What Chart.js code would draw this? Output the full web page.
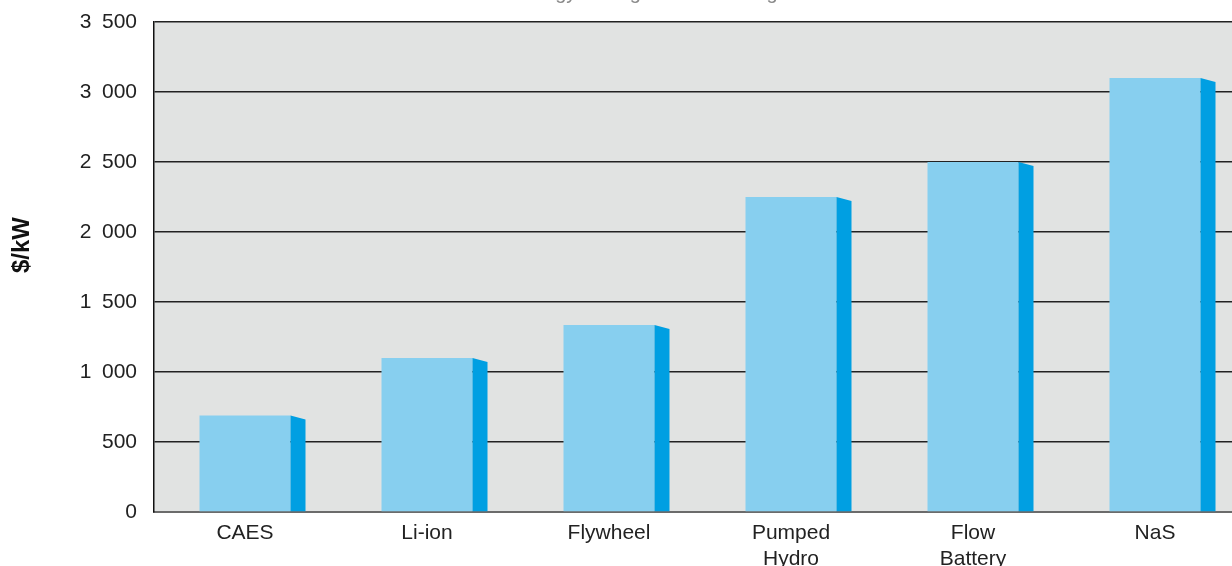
<!DOCTYPE html>
<html>
<head>
<meta charset="utf-8">
<title>Energy Storage Cost Ranking</title>
<script src="https://cdn.jsdelivr.net/npm/chart.js@4/dist/chart.umd.min.js"></script>
<style>
  html, body { margin: 0; padding: 0; background: #fff; overflow: hidden; }
  #wrap { width: 1246px; height: 566px; }
</style>
</head>
<body>
<div id="wrap"><canvas id="costChart"></canvas></div>
<script>
// Cost per kW for each storage technology
const technologies = ['CAES', ['Li-ion'], ['Flywheel'], ['Pumped', 'Hydro'], ['Flow', 'Battery'], ['NaS']];
const costPerKw = [690, 1100, 1335, 2250, 2500, 3100];
const chartTitle = 'Energy Storage Cost Ranking';
const axisTitle = '$/kW';

const FONT = '"Liberation Sans", Arial, Helvetica, sans-serif';
const FRONT = '#87CFEF';
const SIDE = '#009FE2';

// thousands separated with a wide space, like "3 500"
function formatCost(value) {
    return String(value).replace(/\B(?=(\d{3})+(?!\d))/g, '\u2002');
}

// grey plot background
const plotBackground = {
    id: 'plotBackground',
    beforeDraw(chart) {
        const { ctx, chartArea: a } = chart;
        ctx.save();
        ctx.fillStyle = '#E1E3E2';
        ctx.fillRect(a.left, a.top, a.right - a.left, a.bottom - a.top);
        ctx.restore();
    }
};

// darker right face on every bar, slanted at the top
const barSides = {
    id: 'barSides',
    afterDatasetsDraw(chart) {
        const { ctx } = chart;
        const depth = 15, drop = 4;
        chart.getDatasetMeta(0).data.forEach(bar => {
            const right = bar.x + bar.width / 2;
            ctx.save();
            ctx.fillStyle = SIDE;
            ctx.beginPath();
            ctx.moveTo(right, bar.y);
            ctx.lineTo(right + depth, bar.y + drop);
            ctx.lineTo(right + depth, bar.base);
            ctx.lineTo(right, bar.base);
            ctx.closePath();
            ctx.fill();
            ctx.restore();
        });
    }
};

// title above the chart and the rotated axis label
const extraText = {
    id: 'extraText',
    afterDraw(chart) {
        const { ctx } = chart;
        ctx.save();
        ctx.fillStyle = '#8a8a8a';
        ctx.font = '20px ' + FONT;
        ctx.textAlign = 'left';
        ctx.textBaseline = 'alphabetic';
        ctx.fillText(chartTitle, 513, -1);

        ctx.translate(22, 245);
        ctx.rotate(-Math.PI / 2);
        ctx.fillStyle = '#111';
        ctx.font = 'bold 24px ' + FONT;
        ctx.textAlign = 'center';
        ctx.textBaseline = 'middle';
        ctx.fillText(axisTitle, 0, 0);
        ctx.restore();
    }
};

const ctx = document.getElementById('costChart').getContext('2d');
new Chart(ctx, {
    type: 'bar',
    data: {
        labels: technologies,
        datasets: [{
            data: costPerKw,
            backgroundColor: FRONT,
            borderWidth: 0,
            barPercentage: 0.5,
            categoryPercentage: 1
        }]
    },
    options: {
        responsive: true,
        maintainAspectRatio: false,
        devicePixelRatio: 1,
        animation: false,
        layout: { padding: { top: 22, left: 0, right: 0, bottom: 0 } },
        plugins: {
            legend: { display: false },
            tooltip: { enabled: false }
        },
        scales: {
            x: {
                offset: true,
                grid: { display: false, drawTicks: false },
                border: { display: true, color: '#6b6b6b', width: 2 },
                ticks: {
                    color: '#222',
                    font: { family: FONT, size: 21, lineHeight: 1.25 },
                    padding: 8,
                    maxRotation: 0,
                    autoSkip: false
                },
                afterFit(scale) {
                    scale.height = 54;
                    scale.paddingLeft = 0;
                    scale.paddingRight = 0;
                }
            },
            y: {
                min: 0,
                max: 3500,
                grid: {
                    drawTicks: false,
                    color: c => c.tick.value === 0 ? 'rgba(0,0,0,0)' : '#222',
                    lineWidth: 1.5
                },
                border: { display: true, color: '#111', width: 1.5 },
                ticks: {
                    stepSize: 500,
                    color: '#222',
                    padding: 17,
                    font: { family: FONT, size: 21 },
                    callback: v => formatCost(v)
                },
                afterFit(scale) {
                    scale.width = 154;
                    scale.paddingTop = 0;
                    scale.paddingBottom = 0;
                }
            }
        }
    },
    plugins: [plotBackground, barSides, extraText]
});
</script>
</body>
</html>
